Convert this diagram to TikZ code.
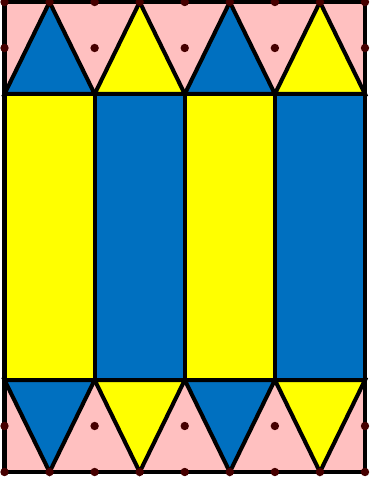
\documentclass[tikz,border=0pt]{standalone}
\definecolor{tblue}{RGB}{0,112,192}
\definecolor{tyellow}{RGB}{255,255,0}
\definecolor{tpink}{RGB}{255,192,192}
\definecolor{tdot}{RGB}{70,0,0}
\begin{document}
\begin{tikzpicture}[x=0.02cm,y=-0.02cm,
  edge/.style={line width=2.3pt,draw=black,line join=miter},
  ptdot/.style={fill=tdot,draw=none}]
\useasboundingbox (0,0) rectangle (369,479);
\def\dx{45.0625}
\def\xo{4.5}
% pink bands
\fill[tpink] (4.5,2) rectangle (365,94);
\fill[tpink] (4.5,380) rectangle (365,472);
% top and bottom triangles
\foreach \i/\c in {0/tblue,1/tyellow,2/tblue,3/tyellow}{
  \pgfmathsetmacro\xa{\xo+2*\i*\dx}
  \pgfmathsetmacro\xb{\xo+(2*\i+1)*\dx}
  \pgfmathsetmacro\xc{\xo+(2*\i+2)*\dx}
  \filldraw[edge,fill=\c] (\xa,94) -- (\xb,2) -- (\xc,94) -- cycle;
  \filldraw[edge,fill=\c] (\xa,380) -- (\xb,472) -- (\xc,380) -- cycle;
}
% rectangles
\foreach \i/\c in {0/tyellow,1/tblue,2/tyellow,3/tblue}{
  \pgfmathsetmacro\xa{\xo+2*\i*\dx}
  \pgfmathsetmacro\xc{\xo+(2*\i+2)*\dx}
  \filldraw[edge,fill=\c] (\xa,94) rectangle (\xc,380);
}
% frame
\draw[edge] (4.5,2) rectangle (365,472);
% dots
\foreach \i in {0,...,8}{
  \pgfmathsetmacro\xa{\xo+\i*\dx}
  \fill[ptdot] (\xa,2) circle[radius=4.2];
  \fill[ptdot] (\xa,472) circle[radius=4.2];
}
\foreach \i in {0,2,4,6,8}{
  \pgfmathsetmacro\xa{\xo+\i*\dx}
  \fill[ptdot] (\xa,48) circle[radius=4.2];
  \fill[ptdot] (\xa,426) circle[radius=4.2];
}
\end{tikzpicture}
\end{document}
